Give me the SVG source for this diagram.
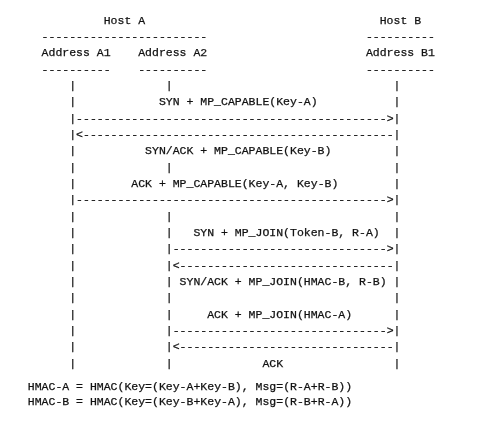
<svg xmlns="http://www.w3.org/2000/svg" width="478" height="431" viewBox="0 0 478 431">
<style>
text { font-family: "Liberation Mono", "DejaVu Sans Mono", monospace; font-size: 11.5px; fill: #111; stroke: #111; stroke-width: 0.25px; }
</style>
<defs>
<filter id="gray" x="0" y="0" width="478" height="431" filterUnits="userSpaceOnUse"><feOffset dx="0" dy="0"/></filter>
</defs>
<rect width="478" height="431" fill="#fff"/>
<g filter="url(#gray)">
<g id="hostA">
<text x="103.7" y="23.5">Host A</text>
<text x="41.6" y="39.84">------------------------</text>
<g id="addressA1">
<text x="41.6" y="56.18">Address A1</text>
<text x="41.6" y="72.52">----------</text>
</g>
<g id="addressA2">
<text x="138.2" y="56.18">Address A2</text>
<text x="138.2" y="72.52">----------</text>
</g>
</g>
<g id="hostB">
<text x="379.7" y="23.5">Host B</text>
<text x="365.9" y="39.84">----------</text>
<g id="addressB1">
<text x="365.9" y="56.18">Address B1</text>
<text x="365.9" y="72.52">----------</text>
</g>
</g>
<g id="lifelines">
<text x="69.2" y="88.86">|</text><text x="165.8" y="88.86">|</text><text x="393.5" y="88.86">|</text>
<text x="69.2" y="105.2">|</text><text x="393.5" y="105.2">|</text>
<text x="69.2" y="154.22">|</text><text x="393.5" y="154.22">|</text>
<text x="69.2" y="170.56">|</text><text x="165.8" y="170.56">|</text><text x="393.5" y="170.56">|</text>
<text x="69.2" y="186.9">|</text><text x="393.5" y="186.9">|</text>
<text x="69.2" y="219.58">|</text><text x="165.8" y="219.58">|</text><text x="393.5" y="219.58">|</text>
<text x="69.2" y="235.92">|</text><text x="165.8" y="235.92">|</text><text x="393.5" y="235.92">|</text>
<text x="69.2" y="252.26">|</text>
<text x="69.2" y="268.6">|</text>
<text x="69.2" y="284.94">|</text><text x="165.8" y="284.94">|</text><text x="393.5" y="284.94">|</text>
<text x="69.2" y="301.28">|</text><text x="165.8" y="301.28">|</text><text x="393.5" y="301.28">|</text>
<text x="69.2" y="317.62">|</text><text x="165.8" y="317.62">|</text><text x="393.5" y="317.62">|</text>
<text x="69.2" y="333.96">|</text>
<text x="69.2" y="350.3">|</text>
<text x="69.2" y="366.64">|</text><text x="165.8" y="366.64">|</text><text x="393.5" y="366.64">|</text>
</g>
<g id="connectors">
<text x="158.9" y="105.2">SYN + MP_CAPABLE(Key-A)</text>
<text x="69.2" y="121.54">|--------------------------------------------->|</text>
<text x="69.2" y="137.88">|&lt;---------------------------------------------|</text>
<text x="145.1" y="154.22">SYN/ACK + MP_CAPABLE(Key-B)</text>
<text x="131.3" y="186.9">ACK + MP_CAPABLE(Key-A, Key-B)</text>
<text x="69.2" y="203.24">|--------------------------------------------->|</text>
<text x="193.4" y="235.92">SYN + MP_JOIN(Token-B, R-A)</text>
<text x="165.8" y="252.26">|------------------------------->|</text>
<text x="165.8" y="268.6">|&lt;-------------------------------|</text>
<text x="179.6" y="284.94">SYN/ACK + MP_JOIN(HMAC-B, R-B)</text>
<text x="207.2" y="317.62">ACK + MP_JOIN(HMAC-A)</text>
<text x="165.8" y="333.96">|------------------------------->|</text>
<text x="165.8" y="350.3">|&lt;-------------------------------|</text>
<text x="262.4" y="366.64">ACK</text>
</g>
<g id="formulas">
<text x="27.8" y="390.2">HMAC-A = HMAC(Key=(Key-A+Key-B), Msg=(R-A+R-B))</text>
<text x="27.8" y="405.2">HMAC-B = HMAC(Key=(Key-B+Key-A), Msg=(R-B+R-A))</text>
</g>
</g>
</svg>
